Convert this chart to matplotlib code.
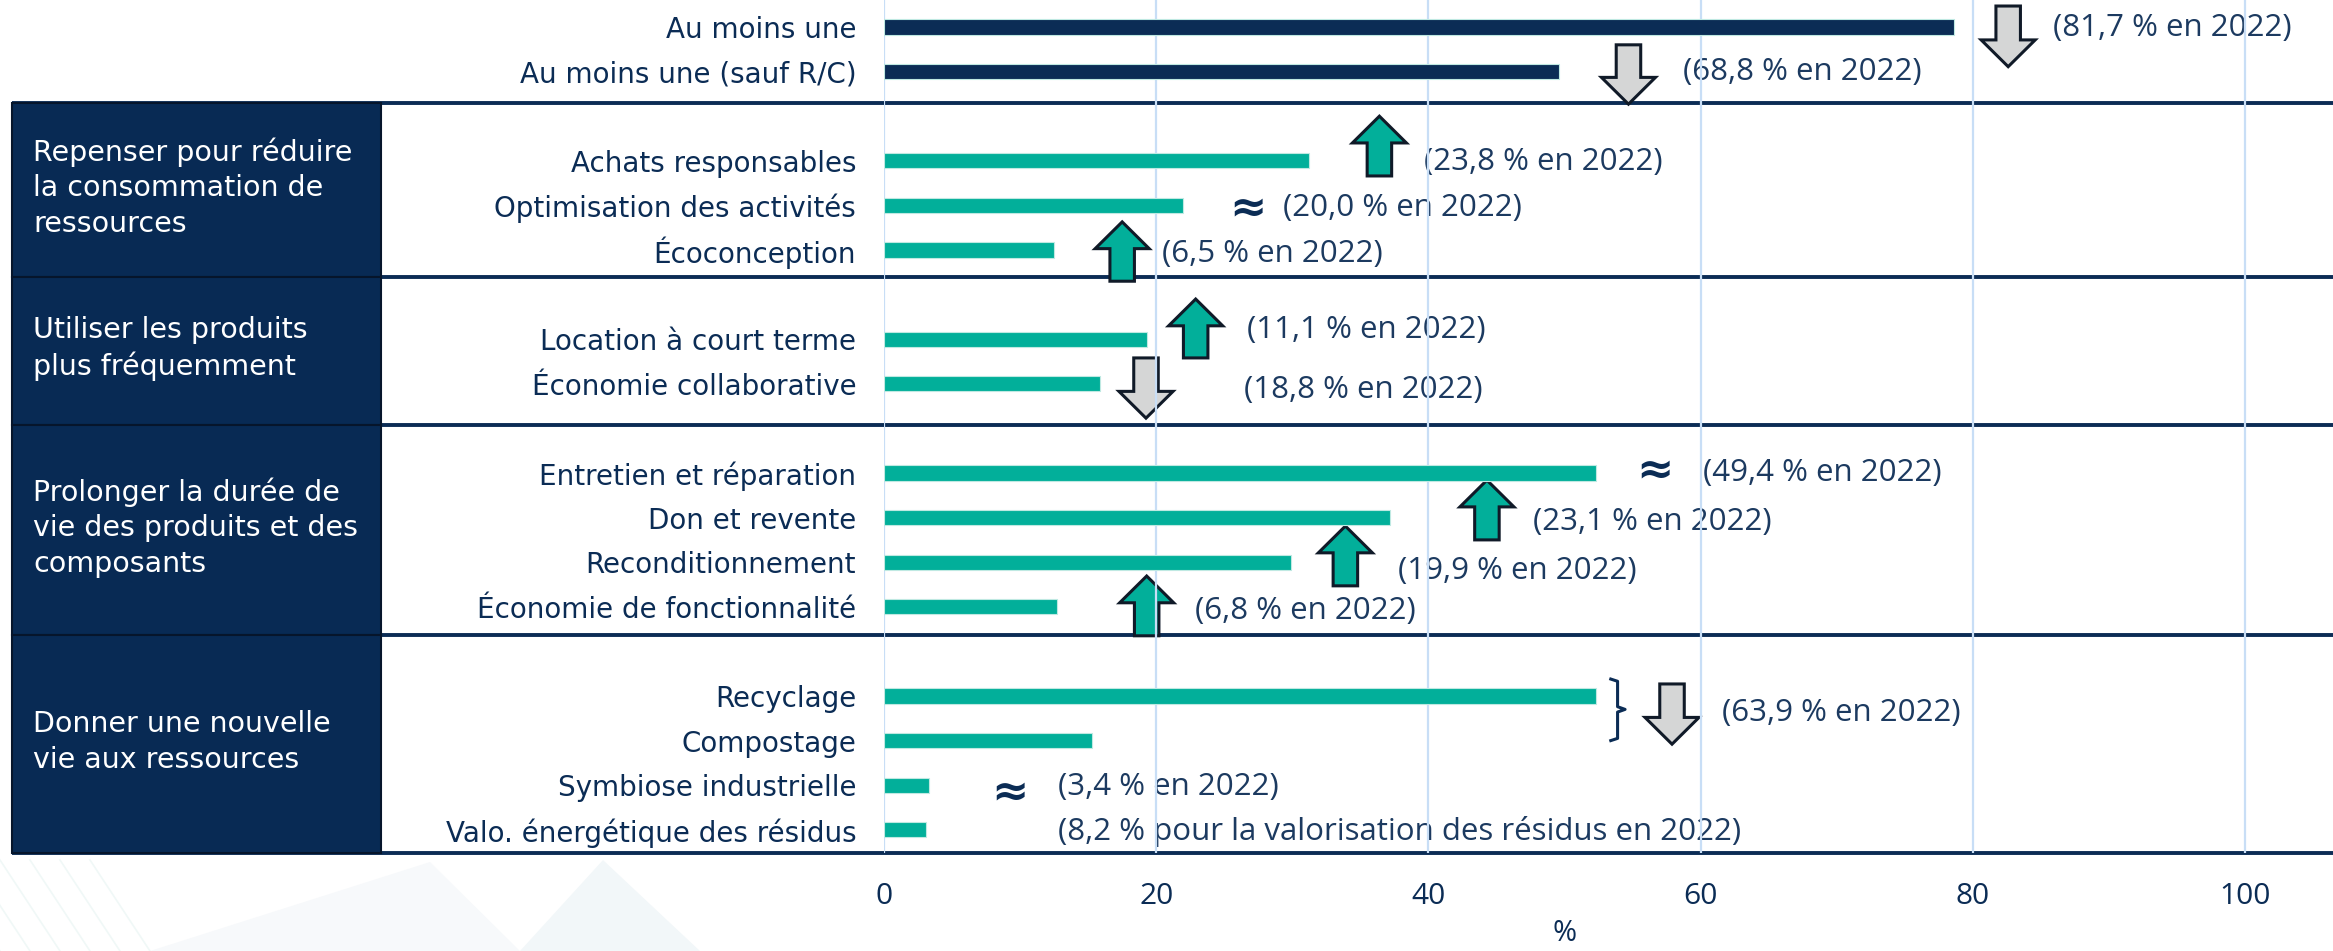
import numpy as np
import matplotlib.pyplot as plt
from matplotlib.patches import Rectangle, FancyArrow, Polygon

# categories and values (% of companies)
categories = ["Au moins une", "Au moins une (sauf R/C)",
              "Achats responsables", "Optimisation des activités", "Écoconception",
              "Location à court terme", "Économie collaborative",
              "Entretien et réparation", "Don et revente", "Reconditionnement",
              "Économie de fonctionnalité",
              "Recyclage", "Compostage", "Symbiose industrielle",
              "Valo. énergétique des résidus"]
values = [78.6, 49.6, 31.2, 22.0, 12.5, 19.3, 15.9, 52.3, 37.2, 29.9, 12.7,
          52.3, 15.3, 3.3, 3.1]
group_sizes = [2, 3, 2, 4, 4]
group_titles = [None,
                "Repenser pour réduire\nla consommation de\nressources",
                "Utiliser les produits\nplus fréquemment",
                "Prolonger la durée de\nvie des produits et des\ncomposants",
                "Donner une nouvelle\nvie aux ressources"]
xticks = [0, 20, 40, 60, 80, 100]

# 2022 reminders: (x, y, text)
notes = [(85.9, 0.02, "(81,7 % en 2022)"),
         (58.7, 1.01, "(68,8 % en 2022)"),
         (39.7, 3.02, "(23,8 % en 2022)"),
         (29.3, 4.06, "(20,0 % en 2022)"),
         (20.4, 5.09, "(6,5 % en 2022)"),
         (26.7, 6.79, "(11,1 % en 2022)"),
         (26.45, 8.14, "(18,8 % en 2022)"),
         (60.2, 10.0, "(49,4 % en 2022)"),
         (47.7, 11.09, "(23,1 % en 2022)"),
         (37.8, 12.19, "(19,9 % en 2022)"),
         (22.85, 13.09, "(6,8 % en 2022)"),
         (61.6, 15.38, "(63,9 % en 2022)"),
         (12.8, 17.04, "(3,4 % en 2022)"),
         (12.8, 18.04, "(8,2 % pour la valorisation des résidus en 2022)")]
# evolution arrows: (x, tail y, tip y, up?)
arrows = [(82.6, -0.47, 0.89, False), (54.7, 0.40, 1.73, False),
          (36.4, 3.34, 2.00, True), (17.5, 5.70, 4.37, True),
          (22.9, 7.42, 6.10, True), (19.25, 7.42, 8.77, False),
          (44.3, 11.50, 10.16, True), (33.9, 12.53, 11.19, True),
          (19.3, 13.65, 12.31, True), (57.9, 14.73, 16.08, False)]
stable = [(26.7, 4.06), (56.65, 9.93), (9.26, 17.15)]
seps = [1.70, 5.60, 8.92, 13.63, 18.52]

navy = '#0B2C55'
teal = '#02AF9A'
grey = '#D5D6D6'
txt = '#1C3A60'
gridc = '#C8DEF6'

W, H = 2333, 951
fig = plt.figure(figsize=(W / 100, H / 100), dpi=100)

# faint background decoration (bottom left)
def px(pts):
    return [(x / W, 1 - y / H) for x, y in pts]
fig.patches.append(Polygon(px([(150, 951), (430, 862), (520, 951)]), closed=True,
                           transform=fig.transFigure, fc='#F7F9FB', ec='none', zorder=0))
fig.patches.append(Polygon(px([(520, 951), (603, 860), (700, 951)]), closed=True,
                           transform=fig.transFigure, fc='#F2F7F9', ec='none', zorder=0))
for k in range(6):
    x0 = -60 + k * 30
    fig.lines.append(plt.Line2D([x0 / W, (x0 + 60) / W], [1 - 860 / H, 0],
                                transform=fig.transFigure, color='#F0F8F7', lw=1.2, zorder=0))

ax = fig.add_axes([884 / W, 1 - 853 / H, 1449 / W, 853 / H])
ax.patch.set_alpha(0)
ax.set_xlim(0, 1449 / 13.61)
ax.set_ylim(18.52, -0.605)

# row positions, one empty row between groups
ypos = []
r = 0
for n in group_sizes:
    ypos += list(range(r, r + n))
    r += n + 1
colors = [navy] * group_sizes[0] + [teal] * (len(values) - group_sizes[0])
ax.barh(ypos, values, height=0.34, color=colors, edgecolor='#BFE9E2', lw=0.8, zorder=5)

for v in xticks:
    ax.axvline(v, color=gridc, lw=1.6, zorder=4)

ytr = ax.get_yaxis_transform()
for y in seps:
    ax.plot([-0.6018, 1.0], [y, y], transform=ytr, color=navy, lw=2.8,
            clip_on=False, zorder=3, solid_capstyle='butt')

for i, title in enumerate(group_titles):
    if title is None:
        continue
    y0, y1 = seps[i - 1], seps[i]
    ax.add_patch(Rectangle((-0.6018, y0), 0.2547, y1 - y0, transform=ytr,
                           fc='#082A54', ec='#06152B', lw=1.5, clip_on=False, zorder=3.5))
    ax.text(-0.5873, (y0 + y1) / 2 - 0.05, title, transform=ytr, color='white',
            fontsize=20.5, va='center', ha='left', linespacing=1.35, zorder=6)

for x, tail, tip, up in arrows:
    ax.add_patch(FancyArrow(x, tail, 0, tip - tail, width=1.8, head_width=3.97,
                            head_length=0.6, length_includes_head=True,
                            fc=teal if up else grey, ec='#101A28', lw=2.2,
                            clip_on=False, zorder=3))

for x, y, s in notes:
    ax.text(x, y, s, color=txt, fontsize=22.5, family='Open Sans',
            va='center', ha='left', zorder=3, clip_on=False)
for x, y in stable:
    ax.text(x, y, "≈", color=navy, fontsize=32, fontweight='bold',
            va='center', ha='center', zorder=3)

# brace grouping recyclage + compostage
bx = [53.4, 53.9, 53.9, 54.45, 53.9, 53.9, 53.4]
by = [14.62, 14.67, 15.24, 15.30, 15.36, 15.95, 16.0]
ax.plot(bx, by, color=navy, lw=2.2, zorder=3)

ax.set_yticks(ypos, categories)
ax.set_xticks(xticks)
ax.tick_params(axis='y', length=0, pad=20, labelsize=20, labelcolor=navy)
ax.tick_params(axis='x', length=0, pad=21, labelsize=21.5, labelcolor=navy)
for lab in ax.get_xticklabels():
    lab.set_family('Open Sans')
for s in ax.spines.values():
    s.set_visible(False)

ax.text(50, -0.094, "%", transform=ax.get_xaxis_transform(), color=navy,
        fontsize=21, family='Open Sans', ha='center', va='center')

fig.savefig('out.png', dpi=100)
